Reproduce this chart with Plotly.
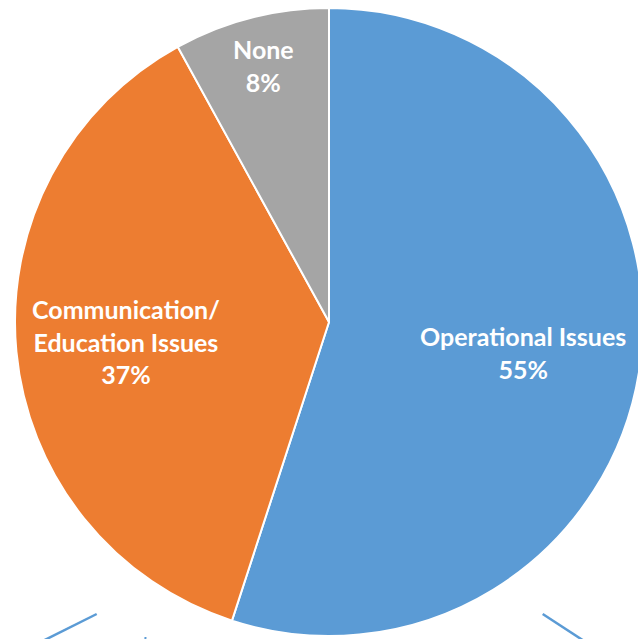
import math
import plotly.graph_objects as go

labels = ["Operational Issues", "Communication/<br>Education Issues", "None"]
values = [55, 37, 8]
colors = ["#5B9BD5", "#ED7D31", "#A5A5A5"]

# layout / style settings (pixel coords of the page; body margin removed below)
W, H = 650, 639
cx, cy, R = 329, 322, 314
label_radius_frac = [0.625, 0.65, 0.845]

fig = go.Figure(go.Pie(
    labels=labels,
    values=values,
    sort=False,
    direction="clockwise",
    rotation=0,
    marker=dict(colors=colors, line=dict(color="white", width=2)),
    textinfo="none",
    hoverinfo="label+percent",
    showlegend=False,
    domain=dict(x=[(cx - R) / W, (cx + R) / W],
                y=[(H - (cy + R)) / H, (H - (cy - R)) / H]),
))

# slice labels placed along each slice's bisector
total = sum(values)
annotations = []
cum = 0
for lab, v, f in zip(labels, values, label_radius_frac):
    mid = (cum + v / 2) / total * 2 * math.pi
    cum += v
    px = cx + f * R * math.sin(mid)
    py = cy - f * R * math.cos(mid)
    pct = round(v / total * 100)
    annotations.append(dict(
        x=px / W, y=1 - py / H, xref="paper", yref="paper",
        text=f"<b>{lab}<br>{pct}%</b>", showarrow=False,
        xanchor="center", yanchor="middle", align="center",
        font=dict(family="Lato, Liberation Sans, sans-serif", size=25, color="white"),
    ))

line_col = "#5B9BD5"
fig.update_layout(
    width=W, height=H,
    margin=dict(l=0, r=0, t=0, b=0),
    paper_bgcolor="white",
    plot_bgcolor="white",
    annotations=annotations,
    shapes=[
        dict(type="line", xref="paper", yref="paper", x0=96.7 / W, y0=1 - 614 / H, x1=34.7 / W, y1=1 - 645 / H,
             line=dict(color=line_col, width=2.5)),
        dict(type="line", xref="paper", yref="paper", x0=145.5 / W, y0=1 - 637 / H, x1=145 / W, y1=1 - 645 / H,
             line=dict(color=line_col, width=2)),
        dict(type="line", xref="paper", yref="paper", x0=542.7 / W, y0=1 - 614 / H, x1=590.2 / W, y1=1 - 645 / H,
             line=dict(color=line_col, width=2.5)),
    ],
)

fig.write_html(
    "out.html",
    config={"displayModeBar": False},
    post_script="document.body.style.margin='0';document.body.style.overflow='hidden';"
                "document.documentElement.style.overflow='hidden';",
)
